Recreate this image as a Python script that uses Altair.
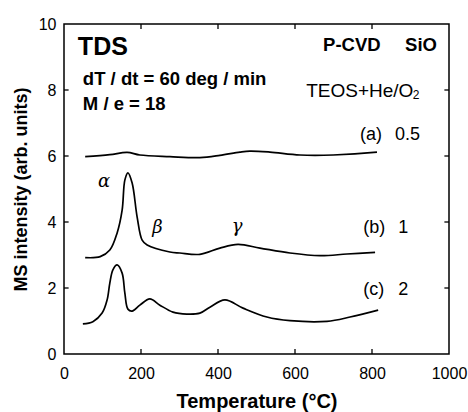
import altair as alt
import pandas as pd

# ---- curve data (Temperature in °C, MS intensity arb. units) ----
a_T = [55, 119, 164, 197, 275, 353, 405, 457, 483, 535, 613, 699, 813]
a_I = [5.98, 6.04, 6.11, 6.03, 5.98, 5.95, 6.02, 6.12, 6.15, 6.12, 6.03, 6.03, 6.12]

b_T = [55, 94, 119, 138, 151, 158, 166, 177, 190, 203, 216, 275, 301, 353, 405, 452, 509, 587, 665, 735, 808]
b_I = [2.92, 2.95, 3.15, 3.67, 4.36, 5.27, 5.49, 5.18, 4.15, 3.45, 3.30, 3.09, 3.06, 3.02, 3.21, 3.32, 3.21, 3.06, 2.98, 3.03, 3.08]

c_T = [49, 75, 99, 112, 119, 127, 138, 151, 158, 166, 177, 197, 223, 249, 283, 319, 353, 379, 418, 465, 527, 587, 683, 743, 816]
c_I = [0.91, 0.98, 1.24, 1.64, 2.15, 2.55, 2.70, 2.45, 1.85, 1.36, 1.30, 1.48, 1.67, 1.48, 1.27, 1.21, 1.24, 1.42, 1.64, 1.39, 1.12, 1.01, 0.99, 1.12, 1.33]

x_ticks = [0, 200, 400, 600, 800, 1000]
y_ticks = [0, 2, 4, 6, 8, 10]
x_inner = [200, 400, 600, 800]
y_inner = [2, 4, 6, 8]

# annotations
bold_text = ["TDS", "dT / dt = 60 deg / min", "M / e = 18", "P-CVD", "SiO"]
bold_x = [36, 49, 49, 673, 886]
bold_y = [9.06, 8.15, 7.39, 9.18, 9.18]
bold_size = [25, 18.5, 18.5, 18.5, 18.5]

reg_text = ["TEOS+He/O", "2", "(a)", "0.5", "(b)", "1", "(c)", "2"]
reg_x = [629, 906, 769, 860, 777, 868, 777, 868]
reg_y = [7.79, 7.73, 6.48, 6.48, 3.67, 3.67, 1.79, 1.79]
reg_size = [19, 12, 18, 18, 18, 18, 18, 18]

greek_text = ["α", "β", "γ"]
greek_x = [88, 229, 436]
greek_y = [5.06, 3.67, 3.70]

curves = pd.concat([
    pd.DataFrame({"T": a_T, "I": a_I, "s": "a"}),
    pd.DataFrame({"T": b_T, "I": b_I, "s": "b"}),
    pd.DataFrame({"T": c_T, "I": c_I, "s": "c"}),
])

xs = alt.Scale(domain=[0, 1000], nice=False)
ys = alt.Scale(domain=[0, 10], nice=False)

FONT = "Liberation Sans"

x_axis = alt.Axis(values=x_ticks, format="d", title="Temperature (°C)", grid=False, domain=False,
                  tickSize=0, labelPadding=11, labelFontSize=16, labelFont=FONT,
                  labelColor="black", titleFont=FONT, titleFontSize=20,
                  titleFontWeight="bold", titleColor="black", titlePadding=10,
                  labelFlush=False)
y_axis = alt.Axis(values=y_ticks, format="d", title="MS intensity (arb. units)", grid=False, domain=False,
                  tickSize=0, labelPadding=8, labelFontSize=16, labelFont=FONT,
                  labelColor="black", titleFont=FONT, titleFontSize=18,
                  titleFontWeight="bold", titleColor="black", titlePadding=8,
                  labelFlush=False)

lines = alt.Chart(curves).mark_line(color="black", strokeWidth=1.7, interpolate="catmull-rom").encode(
    x=alt.X("T:Q", scale=xs, axis=x_axis),
    y=alt.Y("I:Q", scale=ys, axis=y_axis),
    detail="s:N",
)

# inward tick marks
bt = pd.DataFrame({"v": x_inner, "a": 0.0, "b": 0.15})
tt = pd.DataFrame({"v": x_inner, "a": 10.0, "b": 9.85})
lt = pd.DataFrame({"v": y_inner, "a": 0.0, "b": 12.0})
rt = pd.DataFrame({"v": y_inner, "a": 1000.0, "b": 988.0})

tick_b = alt.Chart(bt).mark_rule(color="black", strokeWidth=1.3).encode(
    x=alt.X("v:Q", scale=xs), y=alt.Y("a:Q", scale=ys), y2="b:Q")
tick_t = alt.Chart(tt).mark_rule(color="black", strokeWidth=1.3).encode(
    x=alt.X("v:Q", scale=xs), y=alt.Y("a:Q", scale=ys), y2="b:Q")
tick_l = alt.Chart(lt).mark_rule(color="black", strokeWidth=1.3).encode(
    y=alt.Y("v:Q", scale=ys), x=alt.X("a:Q", scale=xs), x2="b:Q")
tick_r = alt.Chart(rt).mark_rule(color="black", strokeWidth=1.3).encode(
    y=alt.Y("v:Q", scale=ys), x=alt.X("a:Q", scale=xs), x2="b:Q")

bold_df = pd.DataFrame({"t": bold_text, "x": bold_x, "y": bold_y, "fs": bold_size})
reg_df = pd.DataFrame({"t": reg_text, "x": reg_x, "y": reg_y, "fs": reg_size})
greek_df = pd.DataFrame({"t": greek_text, "x": greek_x, "y": greek_y})

bold_layer = alt.Chart(bold_df).mark_text(
    align="left", baseline="alphabetic", font=FONT, fontWeight="bold", color="black"
).encode(x=alt.X("x:Q", scale=xs), y=alt.Y("y:Q", scale=ys), text="t:N",
         size=alt.Size("fs:Q", scale=None))

reg_layer = alt.Chart(reg_df).mark_text(
    align="left", baseline="alphabetic", font=FONT, color="black"
).encode(x=alt.X("x:Q", scale=xs), y=alt.Y("y:Q", scale=ys), text="t:N",
         size=alt.Size("fs:Q", scale=None))

greek_layer = alt.Chart(greek_df).mark_text(
    align="left", baseline="alphabetic", font="DejaVu Serif", fontStyle="italic",
    fontSize=18, color="black"
).encode(x=alt.X("x:Q", scale=xs), y=alt.Y("y:Q", scale=ys), text="t:N")

chart = alt.layer(lines, tick_b, tick_t, tick_l, tick_r, bold_layer, reg_layer, greek_layer).properties(
    width=385, height=330,
    autosize=alt.AutoSizeParams(type="none"),
    padding={"left": 64, "top": 24, "right": 19, "bottom": 58},
    background="white",
).configure_view(stroke="black", strokeWidth=1.5)

chart.save("out.html", embed_options={"renderer": "svg", "actions": False})
